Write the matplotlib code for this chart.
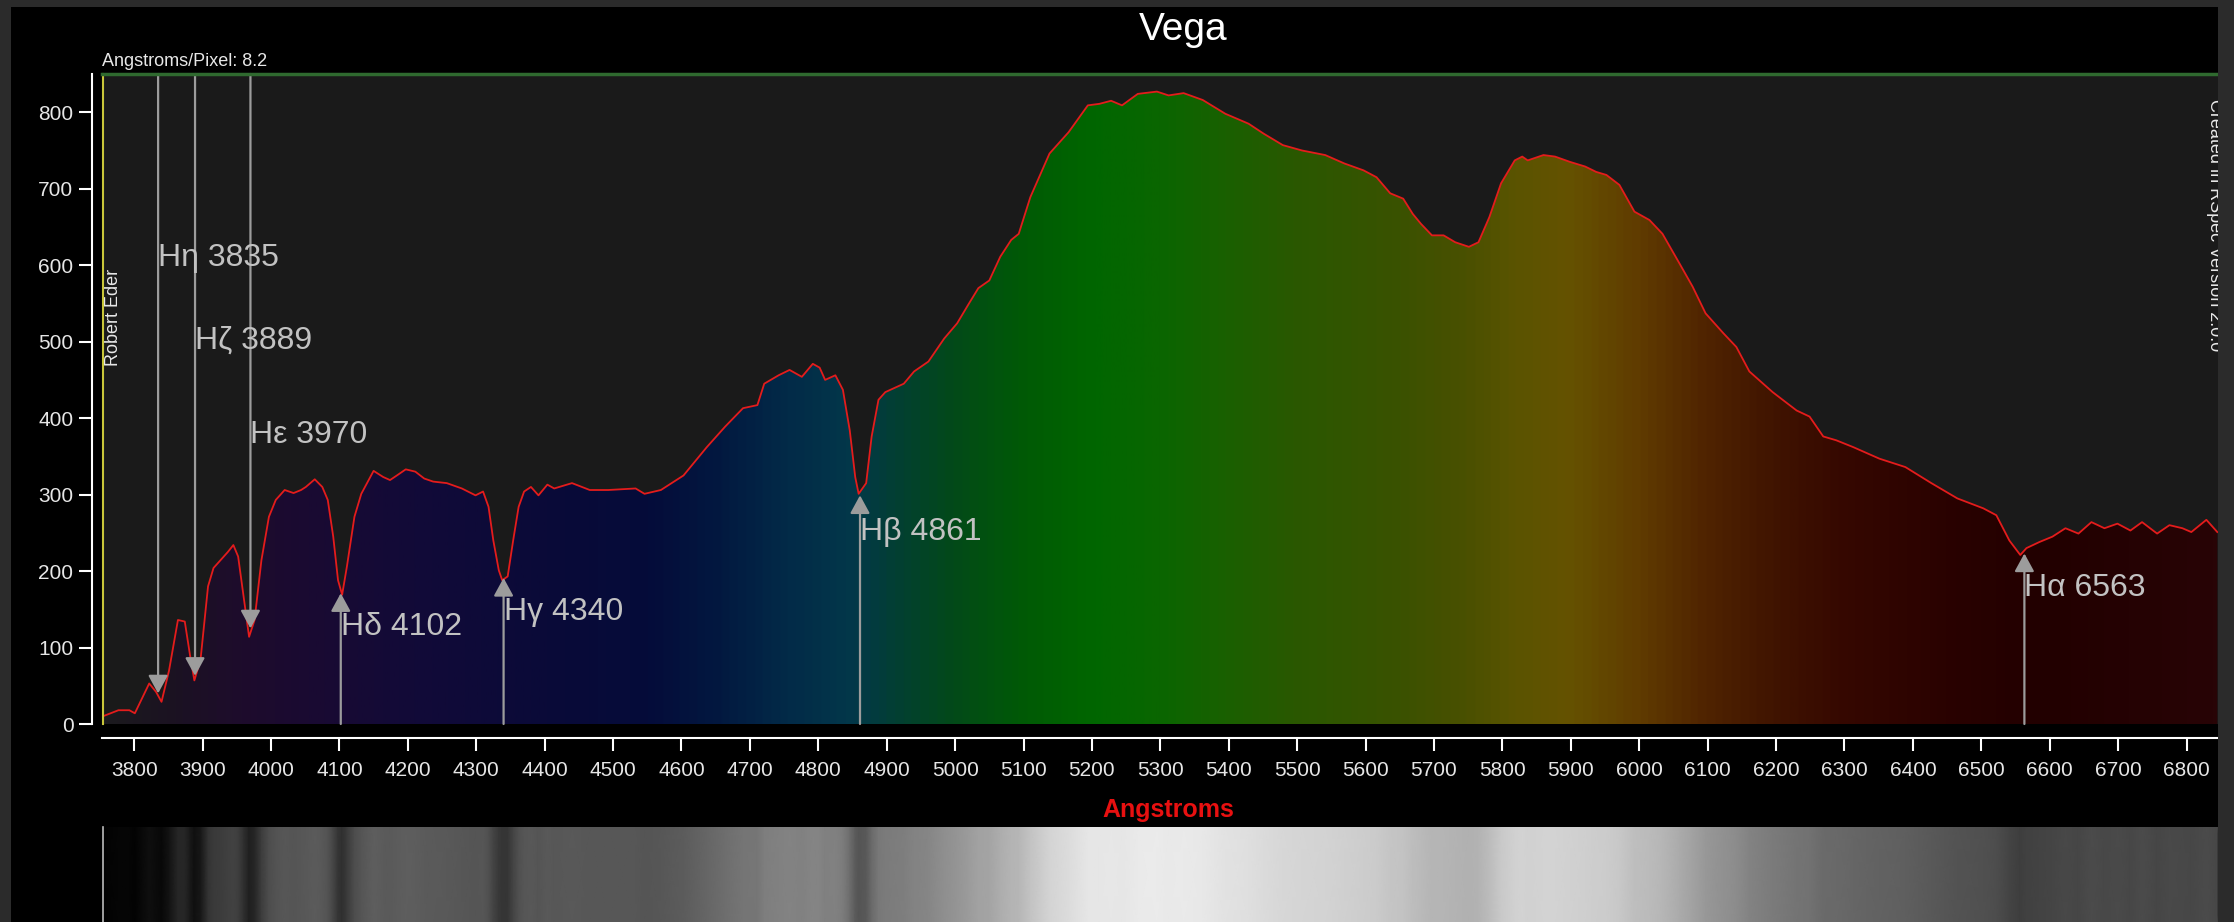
import numpy as np
import matplotlib.pyplot as plt
from matplotlib.colors import LinearSegmentedColormap
from matplotlib.patches import Rectangle

plt.rcParams["font.family"] = ["Liberation Sans", "DejaVu Sans"]

# Vega spectrum (Angstrom, relative counts)
WAVE = [3754, 3777, 3793, 3801, 3822, 3832, 3840, 3851, 3864, 3874, 3882, 3888,
        3897, 3908, 3916, 3926, 3937, 3945, 3952, 3960, 3968, 3976, 3986, 3997,
        4007, 4020, 4033, 4044, 4051, 4064, 4075, 4083, 4091, 4098, 4104, 4111,
        4122, 4132, 4150, 4164, 4174, 4184, 4197, 4211, 4224, 4237, 4257, 4279,
        4299, 4310, 4318, 4325, 4333, 4338, 4346, 4354, 4362, 4370, 4380, 4391,
        4404, 4414, 4440, 4466, 4493, 4533, 4546, 4570, 4603, 4637, 4664, 4690,
        4711, 4721, 4742, 4758, 4776, 4792, 4802, 4810, 4825, 4836, 4846, 4854,
        4859, 4870, 4878, 4888, 4898, 4925, 4940, 4961, 4984, 5003, 5019, 5034,
        5050, 5066, 5082, 5093, 5110, 5138, 5166, 5194, 5211, 5228, 5244, 5267,
        5295, 5312, 5334, 5362, 5395, 5429, 5451, 5479, 5507, 5541, 5569, 5597,
        5616, 5636, 5655, 5669, 5681, 5697, 5714, 5731, 5751, 5765, 5781, 5798,
        5818, 5829, 5837, 5860, 5877, 5899, 5921, 5937, 5952, 5971, 5993, 6015,
        6034, 6059, 6078, 6097, 6123, 6142, 6161, 6195, 6230, 6249, 6269, 6288,
        6313, 6351, 6389, 6427, 6465, 6503, 6522, 6541, 6557, 6566, 6585, 6604,
        6623, 6642, 6661, 6680, 6699, 6718, 6735, 6757, 6775, 6794, 6807, 6829,
        6845]
FLUX = [10, 18, 18, 14, 53, 42, 29, 70, 136, 134, 88, 57,
        84, 180, 204, 214, 225, 234, 219, 166, 114, 136, 214, 271,
        293, 306, 302, 306, 310, 320, 310, 293, 245, 188, 169, 206,
        271, 301, 331, 323, 319, 325, 333, 330, 321, 317, 315, 308,
        299, 304, 284, 240, 201, 188, 193, 240, 284, 304, 310, 299,
        313, 308, 315, 306, 306, 308, 301, 306, 325, 362, 389, 413,
        417, 445, 456, 463, 454, 471, 466, 450, 456, 437, 384, 323,
        301, 315, 376, 424, 434, 445, 461, 474, 504, 524, 548, 570,
        580, 611, 633, 641, 689, 746, 774, 809, 811, 815, 809, 824,
        827, 822, 825, 816, 798, 785, 772, 757, 750, 744, 733, 724,
        715, 694, 687, 667, 654, 639, 639, 630, 624, 630, 663, 707,
        737, 742, 737, 744, 742, 735, 729, 722, 718, 705, 670, 659,
        641, 602, 572, 537, 511, 493, 461, 434, 410, 402, 376, 371,
        362, 347, 336, 315, 295, 282, 273, 240, 221, 230, 238, 245,
        256, 249, 264, 256, 262, 253, 264, 249, 260, 256, 251, 267,
        251]

# Balmer line markers
LINE_NAMES = ["Hη 3835", "Hζ 3889", "Hε 3970", "Hδ 4102", "Hγ 4340", "Hβ 4861", "Hα 6563"]
LINE_WAVE = [3835, 3889, 3970, 4102, 4340, 4861, 6563]
LINE_TIP = [40, 63, 125, 171, 191, 299, 223]
LINE_DOWN = [True, True, True, False, False, False, False]
LABEL_Y = [610, 502, 378, 127, 146, 251, 178]

X_TICKS = list(range(3800, 6801, 100))
Y_TICKS = list(range(0, 801, 100))

XMIN, XMAX = 3753, 6846
YMAX = 850

# colour of the fill along the wavelength axis
STOPS = [(3750, "#1c1a1e"), (3850, "#1b1222"), (3950, "#1e0c2c"), (4050, "#1a0a32"),
         (4200, "#120a38"), (4400, "#0a0a38"), (4550, "#050c3a"), (4650, "#021840"),
         (4750, "#022a48"), (4850, "#03384a"), (4920, "#024030"), (5000, "#034a18"),
         (5100, "#005a05"), (5200, "#006600"), (5300, "#0a6600"), (5400, "#1a6000"),
         (5500, "#2a5800"), (5650, "#3a5200"), (5750, "#4a5000"), (5820, "#5a5400"),
         (5900, "#655200"), (6000, "#603c00"), (6100, "#502400"), (6200, "#401400"),
         (6300, "#360800"), (6450, "#2a0200"), (6600, "#220000"), (6850, "#280406")]

W, H = 2234, 922


def fx(px):
    return px / W


def fy(py):
    return 1 - py / H


fig = plt.figure(figsize=(W / 100, H / 100), dpi=100, facecolor="#2b2b2b")
fig.add_artist(Rectangle((fx(11), 0), fx(2218) - fx(11), fy(7), transform=fig.transFigure,
                         facecolor="black", edgecolor="none", zorder=-5))

ax = fig.add_axes([fx(102), fy(724), fx(2218) - fx(102), (724 - 74) / H])
ax.set_facecolor("#1a1a1a")

# gradient fill under the curve
lo, hi = STOPS[0][0], STOPS[-1][0]
cmap = LinearSegmentedColormap.from_list("spec", [((w - lo) / (hi - lo), c) for w, c in STOPS])
grad = cmap(np.linspace(0, 1, 1200))[np.newaxis, :, :3]
im = ax.imshow(grad, extent=(lo, hi, 0, YMAX), aspect="auto", origin="lower", zorder=1)
poly = ax.fill_between(WAVE, FLUX, 0, facecolor="none", edgecolor="none")
im.set_clip_path(poly.get_paths()[0], transform=ax.transData)

ax.plot(WAVE, FLUX, color="#e41c1c", lw=1.3, zorder=3)

for name, w, tip, down, ly in zip(LINE_NAMES, LINE_WAVE, LINE_TIP, LINE_DOWN, LABEL_Y):
    start = YMAX if down else 0
    ax.annotate("", xy=(w, tip), xytext=(w, start),
                arrowprops=dict(arrowstyle="-|>,head_length=0.55,head_width=0.3",
                                color="#9c9c9c", lw=1.6, shrinkA=0, shrinkB=0,
                                mutation_scale=20), zorder=4)
    ax.text(w, ly, name, ha="left", va="center", fontsize=23, color="#c2c2c2", zorder=5)

ax.plot([XMIN + 1, XMIN + 1], [0, YMAX], color="#c9c63a", lw=1.5, clip_on=False, zorder=6)
ax.plot([XMIN, XMAX], [YMAX, YMAX], color="#2f6a2f", lw=2.5, clip_on=False, zorder=6)

ax.set_xlim(XMIN, XMAX)
ax.set_ylim(0, YMAX)
ax.set_xticks(X_TICKS)
ax.set_yticks(Y_TICKS)
for side in ["top", "right"]:
    ax.spines[side].set_visible(False)
ax.spines["left"].set_position(("outward", 7.2))
ax.spines["bottom"].set_position(("outward", 10))
for side in ["left", "bottom"]:
    ax.spines[side].set_color("white")
    ax.spines[side].set_linewidth(1.5)
ax.tick_params(axis="both", colors="white", length=9.4, width=1.5, labelcolor="#e6e6e6")
ax.tick_params(axis="x", labelsize=15, pad=7)
ax.tick_params(axis="y", labelsize=15, pad=4)

# grey spectrum strip under the graph
ax2 = fig.add_axes([fx(102), 0, fx(2218) - fx(102), (922 - 827) / H])
xs = np.vstack([WAVE, WAVE])
ys = np.vstack([np.zeros(len(WAVE)), np.ones(len(WAVE))])
cs = np.vstack([FLUX, FLUX])
ax2.pcolormesh(xs, ys, cs, shading="gouraud", cmap="gray", vmin=0, vmax=900)
ax2.set_xlim(XMIN, XMAX)
ax2.set_ylim(0, 1)
ax2.axis("off")
fig.add_artist(plt.Line2D([fx(103), fx(103)], [0, fy(827)], color="#bbbbbb", lw=1.2,
                          transform=fig.transFigure))

fig.text(fx(1183), fy(30), "Vega", ha="center", va="center", fontsize=28, color="white")
fig.text(fx(102), fy(61), "Angstroms/Pixel: 8.2", ha="left", va="center", fontsize=13,
         color="#e8e8e8")
fig.text(fx(114), fy(317), "Robert Eder", ha="center", va="center", rotation=90,
         fontsize=13, color="#e8e8e8")
fig.text(fx(2214), fy(225), "Created in RSpec Version 2.0.0", ha="center", va="center",
         rotation=270, fontsize=13, color="#e8e8e8")
fig.text(fx(1168), fy(810), "Angstroms", ha="center", va="center", fontsize=18,
         fontweight="bold", color="#e81010")

# right frame strip covering half of the credit text
fig.add_artist(Rectangle((fx(2218), 0), 1 - fx(2218), 1, transform=fig.transFigure,
                         facecolor="#2b2b2b", edgecolor="none", zorder=10))

fig.savefig("out.png", dpi=100, facecolor=fig.get_facecolor())
